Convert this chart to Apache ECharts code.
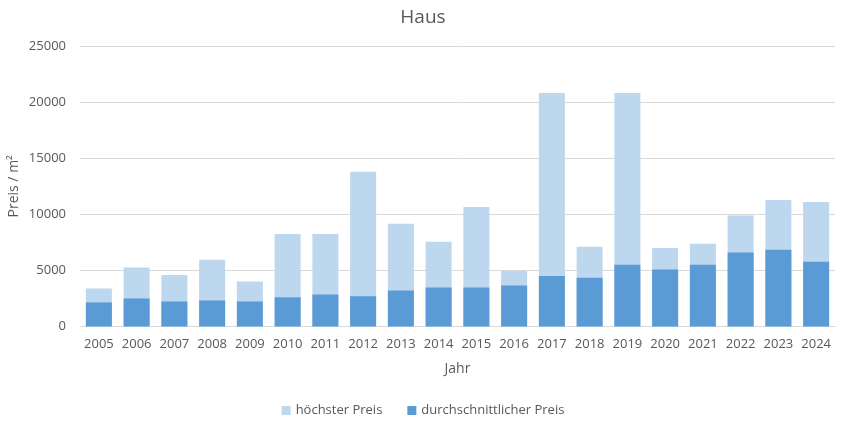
<!DOCTYPE html>
<html><head><meta charset="utf-8">
<script src="https://cdn.jsdelivr.net/npm/echarts@6/dist/echarts.min.js"></script>
<style>html,body{margin:0;padding:0;background:#fff}#c{width:846px;height:426px}</style>
</head><body><div id="c"></div>
<script>
const years = ['2005','2006','2007','2008','2009','2010','2011','2012','2013','2014','2015','2016','2017','2018','2019','2020','2021','2022','2023','2024'];
const hoechsterPreis = [3380,5250,4600,5950,4000,8250,8250,13800,9150,7550,10650,4950,20800,7100,20800,7000,7370,9900,11280,11100];
const durchschnittPreis = [2150,2500,2230,2320,2230,2600,2850,2700,3200,3470,3470,3650,4500,4350,5500,5080,5500,6600,6830,5760];
const yTicks = [0,5000,10000,15000,20000,25000];
const txt = '#595959';
const chart = echarts.init(document.getElementById('c'));
chart.setOption({
  animation:false,
  textStyle:{fontFamily:'Open Sans'},
  title:{text:'Haus',left:'center',top:3,textStyle:{fontFamily:'Open Sans',fontWeight:'normal',fontSize:19,color:txt}},
  grid:{left:80,right:11,top:46,bottom:99.5,outerBoundsMode:'none',containLabel:false},
  legend:{bottom:4,left:'center',itemWidth:9,itemHeight:9,itemGap:25,icon:'rect',textStyle:{fontSize:13,color:txt},data:['höchster Preis','durchschnittlicher Preis']},
  xAxis:{type:'category',data:years,name:'Jahr',nameLocation:'middle',nameGap:36,nameMoveOverlap:false,nameTextStyle:{fontSize:14,color:txt},
    axisLine:{lineStyle:{color:'#D9D9D9'}},axisTick:{show:false},axisLabel:{fontSize:13,color:txt,margin:11,interval:0}},
  yAxis:{type:'value',min:yTicks[0],max:yTicks[yTicks.length-1],interval:5000,name:'Preis / m²',nameLocation:'middle',nameGap:59,nameMoveOverlap:false,
    nameTextStyle:{fontSize:14,color:txt},axisLine:{show:false},axisTick:{show:false},
    axisLabel:{fontSize:13,color:txt,margin:14,formatter:v=>String(v)},splitLine:{lineStyle:{color:'#D9D9D9'}}},
  series:[
    {name:'höchster Preis',type:'bar',data:hoechsterPreis,barWidth:26,barGap:'-100%',itemStyle:{color:'#BDD7EE'}},
    {name:'durchschnittlicher Preis',type:'bar',data:durchschnittPreis,barWidth:26,itemStyle:{color:'#5B9BD5'}}
  ]
});
</script></body></html>
